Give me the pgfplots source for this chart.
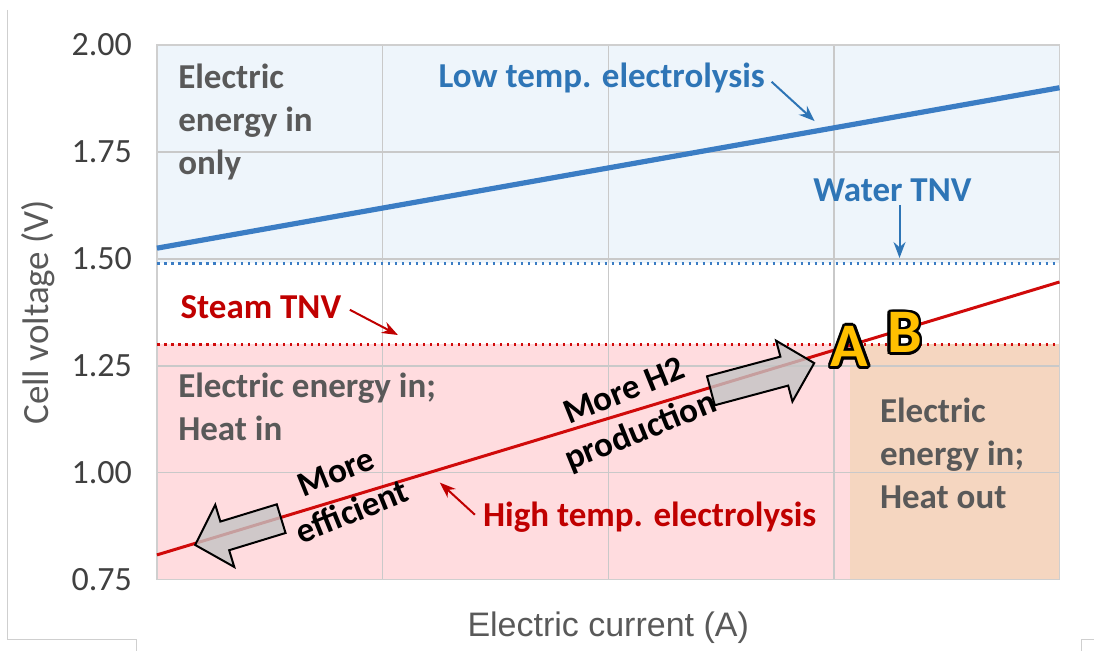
\documentclass[border=0pt]{standalone}
\usepackage{pgfplots}
\pgfplotsset{compat=1.18}
\usetikzlibrary{arrows.meta}
\usepackage{fontspec}
\setmainfont{Carlito}
\newfontfamily\arialf{Liberation Sans}
\definecolor{bluefill}{HTML}{EEF5FB}
\definecolor{pinkfill}{HTML}{FFDCDF}
\definecolor{tanfill}{HTML}{F5D6C0}
\definecolor{blueline}{HTML}{3B7DC4}
\definecolor{bluetext}{HTML}{2E75B6}
\definecolor{redline}{HTML}{D00A0A}
\definecolor{redtext}{HTML}{C00000}
\definecolor{txtgray}{HTML}{595959}
\definecolor{tickgray}{HTML}{404040}
\definecolor{gridgray}{HTML}{C9C9C9}
\definecolor{framegray}{HTML}{CFCFCF}
\definecolor{abyellow}{HTML}{FFC000}
\definecolor{arrowgray}{HTML}{C4C4C4}
\newcommand\olet[1]{%
  \begingroup
  \def\o##1##2{\rlap{\hspace*{##1}\raisebox{##2}{\color{black}#1}}}%
  \o{1.4pt}{0pt}\o{-1.4pt}{0pt}\o{0pt}{1.4pt}\o{0pt}{-1.4pt}%
  \o{1pt}{1pt}\o{-1pt}{1pt}\o{1pt}{-1pt}\o{-1pt}{-1pt}%
  \o{1.3pt}{0.55pt}\o{-1.3pt}{0.55pt}\o{1.3pt}{-0.55pt}\o{-1.3pt}{-0.55pt}%
  \o{0.55pt}{1.3pt}\o{-0.55pt}{1.3pt}\o{0.55pt}{-1.3pt}\o{-0.55pt}{-1.3pt}%
  {\color{abyellow}#1}%
  \endgroup}
\tikzset{annot/.style={font=\fontsize{17.5}{21.5}\selectfont\bfseries, align=left, inner sep=0pt}}
\begin{document}
\begin{tikzpicture}
\begin{axis}[
  name=ax, set layers, scale only axis,
  width=451.5pt, height=267.5pt,
  xmin=0, xmax=4, ymin=0.75, ymax=2,
  xtick={0,1,2,3,4}, xticklabels={},
  ytick={0.75,1,1.25,1.5,1.75,2},
  grid=major, major grid style={draw=gridgray, line width=0.7pt},
  major tick length=0pt,
  axis line style={draw=framegray, line width=0.7pt},
  tick label style={font=\fontsize{17}{20}\selectfont, text=tickgray},
  yticklabel style={xshift=-9pt},
  /pgf/number format/assume math mode=true,
  y tick label style={/pgf/number format/fixed, /pgf/number format/fixed zerofill, /pgf/number format/precision=2},
  xlabel={\arialf Electric current (A)},
  ylabel={Cell voltage (V)},
  every axis x label/.style={at={(rel axis cs:0.5,0)}, yshift=-24pt, anchor=center, font=\fontsize{17}{20}\selectfont, text=txtgray},
  every axis y label/.style={at={(rel axis cs:0,0.5)}, xshift=-59.5pt, anchor=center, rotate=90, font=\fontsize{18.5}{22}\selectfont, text=txtgray},
  clip=false,
]
% background regions
\addplot[on layer=axis background, fill=bluefill, draw=none] coordinates {(0,1.49) (4,1.49) (4,2) (0,2)} -- cycle;
\addplot[on layer=axis background, fill=pinkfill, draw=none] coordinates {(0,0.75) (3.07,0.75) (3.07,1.30) (0,1.30)} -- cycle;
\addplot[on layer=axis background, fill=tanfill, draw=none] coordinates {(3.07,0.75) (4,0.75) (4,1.30) (3.07,1.30)} -- cycle;
% TNV lines
\addplot[blueline, line width=1.5pt, dash pattern=on 1.3pt off 2.2pt] coordinates {(0,1.49) (4,1.49)};
\addplot[redline, line width=1.5pt, dash pattern=on 1.3pt off 2.2pt] coordinates {(0,1.30) (4,1.30)};
% electrolysis lines
\addplot[blueline, line width=2.6pt] coordinates {(0,1.525) (4,1.90)};
\addplot[redline, line width=1.5pt] coordinates {(0,0.808) (4,1.446)};
% block arrows
\begin{scope}[shift={(axis cs:2.684,1.224)}, rotate=15]
\filldraw[fill=arrowgray, fill opacity=0.8, draw=black, line width=1pt, line join=miter]
 (-26.75pt,-7.5pt) -- (11.25pt,-7.5pt) -- (11.25pt,-15.75pt) -- (26.75pt,0pt) -- (11.25pt,15.75pt) -- (11.25pt,7.5pt) -- (-26.75pt,7.5pt) -- cycle;
\end{scope}
\begin{scope}[shift={(axis cs:0.36,0.862)}, rotate=197]
\filldraw[fill=arrowgray, fill opacity=0.8, draw=black, line width=1pt, line join=miter]
 (-22.5pt,-7.5pt) -- (7pt,-7.5pt) -- (7pt,-16.25pt) -- (22.5pt,0pt) -- (7pt,16.25pt) -- (7pt,7.5pt) -- (-22.5pt,7.5pt) -- cycle;
\end{scope}
% region texts
\node[annot, text=txtgray, anchor=west] at (axis cs:0.093,1.821) {Electric\\energy in\\only};
\node[annot, text=txtgray, anchor=west] at (axis cs:0.093,1.153) {Electric energy in;\\Heat in};
\node[annot, text=txtgray, anchor=west] at (axis cs:3.203,1.046) {Electric\\energy in;\\Heat out};
% line labels
\node[annot, text=bluetext] at (axis cs:1.971,1.923) {Low temp. electrolysis};
\draw[bluetext, line width=1pt, -{Stealth[length=8pt,width=6pt]}] (axis cs:2.724,1.914) -- (axis cs:2.915,1.822);
\node[annot, text=bluetext] at (axis cs:3.26,1.661) {Water TNV};
\draw[bluetext, line width=1pt, -{Stealth[length=8pt,width=6pt]}] (axis cs:3.291,1.626) -- (axis cs:3.291,1.502);
\node[annot, text=redtext] at (axis cs:0.461,1.388) {Steam TNV};
\draw[redtext, line width=1pt, -{Stealth[length=8pt,width=6pt]}] (axis cs:0.855,1.381) -- (axis cs:1.068,1.322);
\node[annot, text=redtext] at (axis cs:2.184,0.897) {High temp. electrolysis};
\draw[redtext, line width=1pt, -{Stealth[length=8pt,width=6pt]}] (axis cs:1.409,0.902) -- (axis cs:1.254,0.977);
% rotated texts
\node[annot, text=black, align=center, rotate=22] at (axis cs:2.11,1.14) {More H2\\production};
\node[annot, text=black, align=center, rotate=22] at (axis cs:0.83,0.955) {More\\efficient};
% A and B
\node[font=\fontsize{31}{31}\selectfont\bfseries, inner sep=0pt] at (axis cs:3.07,1.295) {\olet{A}};
\node[font=\fontsize{31}{31}\selectfont\bfseries, inner sep=0pt] at (axis cs:3.313,1.327) {\olet{B}};
\end{axis}
\pgfresetboundingbox
\coordinate (TL) at ([shift={(-78.5pt,22.5pt)}]ax.north west);
\path (TL) rectangle ([shift={(17pt,-35.5pt)}]ax.south east);
\draw[framegray, line width=0.5pt] ([shift={(4pt,-5pt)}]TL) -- ([shift={(4pt,-320pt)}]TL) -- ([shift={(68.5pt,-320pt)}]TL) -- ([shift={(68.5pt,-325.5pt)}]TL);
\draw[framegray, line width=0.5pt] ([shift={(547pt,-320pt)}]TL) -- ([shift={(541pt,-320pt)}]TL) -- ([shift={(541pt,-325.5pt)}]TL);
\end{tikzpicture}
\end{document}
